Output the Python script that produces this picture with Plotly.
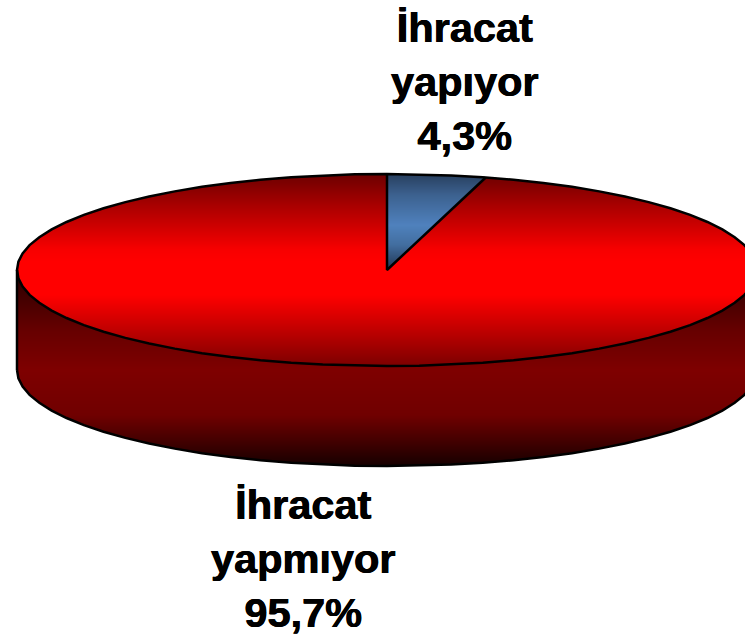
import numpy as np
import plotly.graph_objects as go

# data
names = ["İhracat<br>yapıyor", "İhracat<br>yapmıyor"]
values = [4.3, 95.7]

# pie geometry (pixels of the plot area)
CX, CY, RX, RY, DEPTH = 387.0, 270.0, 370.0, 96.0, 100.0
W, H = 745, 640

# gradient stops: (pixel y, hex)
RED_TOP = [(174, "#6c0000"), (205, "#a80000"), (250, "#f80000"), (262, "#ff0000"),
           (295, "#ff0000"), (330, "#c00000"), (366, "#7c0000")]
BLUE_TOP = [(174, "#283f5e"), (195, "#3c618f"), (225, "#4f81bd"), (245, "#426d9f"), (270, "#1f3550")]
RED_SIDE = [(270, "#240000"), (330, "#660000"), (370, "#7e0000"), (415, "#700000"),
            (445, "#3c0000"), (468, "#120000")]


def scale(stops):
    lo, hi = stops[0][0], stops[-1][0]
    return lo, hi, [[(y - lo) / (hi - lo), c] for y, c in stops]


xs = np.arange(W) + 0.5
ys = np.arange(H) + 0.5
XX, YY = np.meshgrid(xs, ys)
u = (XX - CX) / RX
v = (YY - CY) / RY
inside = u ** 2 + v ** 2 <= 1
angle = np.degrees(np.arctan2(u, -v)) % 360
limit = 360 * values[0] / sum(values)
in_blue = inside & (angle <= limit)
front = np.sqrt(np.clip(1 - u ** 2, 0, None)) * RY + CY
in_side = (np.abs(u) <= 1) & (YY >= CY) & (YY <= front + DEPTH) & ~inside


def layer(mask, stops):
    lo, hi, cs = scale(stops)
    z = np.where(mask, np.clip(YY, lo, hi), np.nan)
    return go.Heatmap(x=xs, y=ys, z=z, zmin=lo, zmax=hi, colorscale=cs,
                      showscale=False, hoverinfo="skip", zsmooth=False)


fig = go.Figure()
fig.add_trace(layer(in_side, RED_SIDE))
fig.add_trace(layer(inside & ~in_blue, RED_TOP))
fig.add_trace(layer(in_blue, BLUE_TOP))

line = dict(color="black", width=2.5)
t = np.radians(np.arange(0, 361, 5.0))
ex = CX + RX * np.sin(t)
ey = CY - RY * np.cos(t)
fig.add_trace(go.Scatter(x=ex, y=ey, mode="lines", line=line, hoverinfo="skip"))
t2 = np.radians(np.arange(90, 271, 5.0))
fig.add_trace(go.Scatter(x=CX + RX * np.sin(t2), y=CY - RY * np.cos(t2) + DEPTH,
                         mode="lines", line=line, hoverinfo="skip"))
for sx in (CX - RX, CX + RX):
    fig.add_trace(go.Scatter(x=[sx, sx], y=[CY, CY + DEPTH], mode="lines", line=line, hoverinfo="skip"))
a = np.radians(limit)
fig.add_trace(go.Scatter(x=[CX, CX, CX + RX * np.sin(a)], y=[CY - RY, CY, CY - RY * np.cos(a)],
                         mode="lines", line=line, hoverinfo="skip"))

# labels
font = dict(family="Liberation Sans, Arial, sans-serif", size=41.5, color="black", weight="bold",
            shadow="0.4px 0 0 black, -0.4px 0 0 black")
anchors = [(465, 2), (303, 479)]
for name, val, (ax, ay) in zip(names, values, anchors):
    txt = f"{name}<br>{val:.1f}%".replace(".", ",")
    fig.add_annotation(x=ax, y=(H - ay) / H, yref="paper", text=f"<b>{txt}</b>", showarrow=False,
                       xanchor="center", yanchor="top", font=font, align="center")

fig.update_layout(
    width=W, height=H, margin=dict(l=0, r=0, t=0, b=0), showlegend=False,
    paper_bgcolor="white", plot_bgcolor="white",
    xaxis=dict(range=[0, W], visible=False, fixedrange=True),
    yaxis=dict(range=[H, 0], visible=False, fixedrange=True),
)
fig.write_html("out.html", config={"displayModeBar": False},
               post_script="document.body.style.margin='0';document.body.style.overflow='hidden';")
